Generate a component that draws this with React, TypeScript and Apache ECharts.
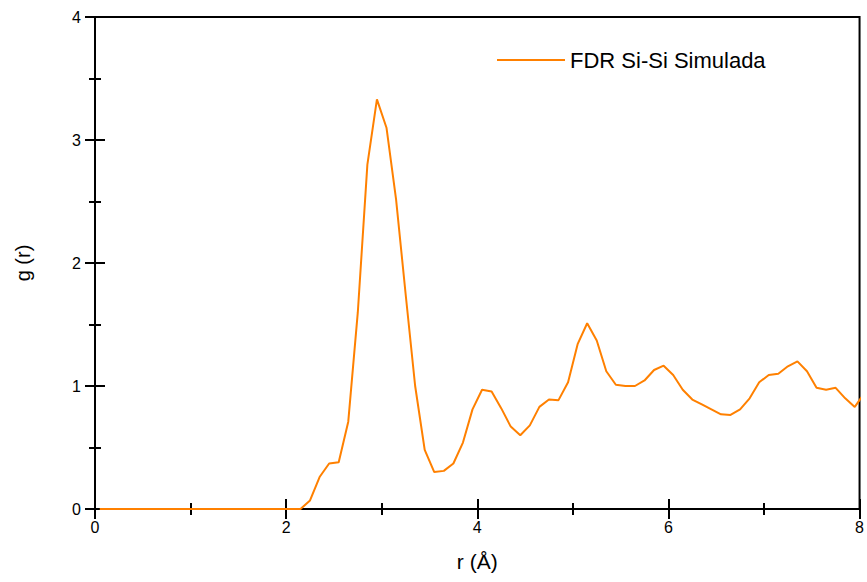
import React, { useEffect, useRef } from "react";
import * as echarts from "echarts";

const rStart = 0.05;
const rStep = 0.1;
const gValues: number[] = [
  // 0.05 .. 2.15
  0, 0, 0, 0, 0, 0, 0, 0, 0, 0,
  0, 0, 0, 0, 0, 0, 0, 0, 0, 0,
  0, 0,
  // 2.25 ..
  0.07, 0.26, 0.37, 0.38, 0.71, 1.6, 2.8, 3.33, 3.1, 2.52,
  1.75, 1.0, 0.48, 0.3, 0.31, 0.37, 0.54, 0.81, 0.97, 0.955,
  0.82, 0.67, 0.6, 0.68, 0.83, 0.89, 0.885, 1.03, 1.34, 1.51,
  1.37, 1.12, 1.01, 1.0, 1.0, 1.045, 1.13, 1.165, 1.09, 0.97,
  0.89, 0.85, 0.81, 0.77, 0.765, 0.81, 0.9, 1.03, 1.09, 1.1,
  1.16, 1.2, 1.12, 0.985, 0.97, 0.985, 0.9, 0.83, 0.94,
];
const seriesName = "FDR Si-Si Simulada";
const xTitle = "r (Å)";
const yTitle = "g (r)";

const FONT = "Liberation Sans, Arial, sans-serif";
const ORANGE = "#ff8000";

export default function App() {
  const ref = useRef<HTMLDivElement>(null);
  useEffect(() => {
    if (!ref.current) return;
    const chart = echarts.init(ref.current, undefined, { renderer: "svg" });
    const data = gValues.map((v, i) => [+(rStart + i * rStep).toFixed(2), v]);
    const axisLine = { show: true, lineStyle: { color: "#000", width: 2 } };
    const axisTick = { show: true, inside: true, length: 10, lineStyle: { color: "#000", width: 2 } };
    const minorTick = { show: true, splitNumber: 2, length: 6, lineStyle: { color: "#000", width: 2 } };
    chart.setOption({
      animation: false,
      backgroundColor: "#fff",
      grid: { left: 95, right: 7, top: 17, bottom: 73, show: true, borderColor: "#000", borderWidth: 2, backgroundColor: "transparent" },
      legend: {
        data: [seriesName],
        left: 492,
        top: 44,
        icon: "rect",
        itemWidth: 68,
        itemHeight: 2,
        textStyle: { fontFamily: FONT, fontSize: 22, color: "#000" },
      },
      xAxis: [
        {
          type: "value",
          min: 0,
          max: 8,
          interval: 2,
          name: xTitle,
          nameLocation: "middle",
          nameGap: 42,
          nameTextStyle: { fontFamily: FONT, fontSize: 21, color: "#000" },
          axisLine,
          axisTick,
          minorTick,
          splitLine: { show: false },
          axisLabel: { fontFamily: FONT, fontSize: 16, color: "#000", margin: 10 },
        },
        {
          type: "value",
          position: "top",
          min: 0,
          max: 8,
          interval: 2,
          axisLine,
          axisTick,
          minorTick,
          splitLine: { show: false },
          axisLabel: { show: false },
        },
      ],
      yAxis: [
        {
          type: "value",
          min: 0,
          max: 4,
          interval: 1,
          name: yTitle,
          nameLocation: "middle",
          nameGap: 62,
          nameTextStyle: { fontFamily: FONT, fontSize: 20, color: "#000" },
          axisLine,
          axisTick,
          minorTick,
          splitLine: { show: false },
          axisLabel: { fontFamily: FONT, fontSize: 16, color: "#000", margin: 14 },
        },
        {
          type: "value",
          position: "right",
          min: 0,
          max: 4,
          interval: 1,
          axisLine,
          axisTick,
          minorTick,
          splitLine: { show: false },
          axisLabel: { show: false },
        },
      ],
      series: [
        {
          name: seriesName,
          type: "line",
          xAxisIndex: 0,
          yAxisIndex: 0,
          data,
          symbol: "none",
          lineStyle: { color: ORANGE, width: 2 },
          itemStyle: { color: ORANGE },
          z: 3,
        },
      ],
    });
    return () => chart.dispose();
  }, []);
  return <div ref={ref} style={{ width: 867, height: 582, position: "absolute", left: 0, top: 0 }} />;
}
